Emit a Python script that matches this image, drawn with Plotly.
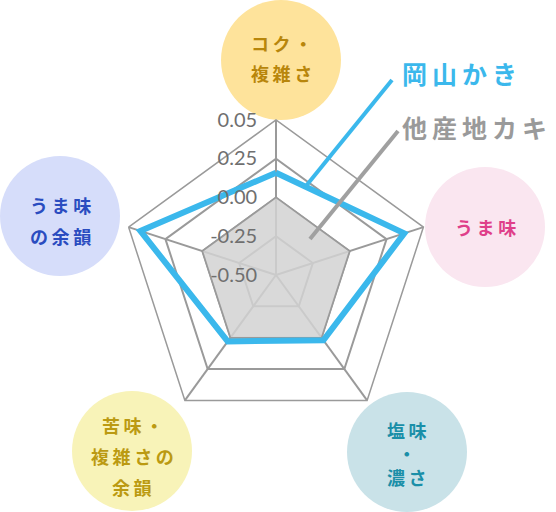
import plotly.graph_objects as go

# 評価項目 (時計回り、上から)
categories = ['コク・複雑さ', 'うま味', '塩味・濃さ', '苦味・複雑さの余韻', 'うま味の余韻']
okayama = [0.16, 0.37, 0.02, 0.03, 0.42]
other = [0.0, 0.0, 0.0, 0.0, 0.0]
tick_vals = [-0.5, -0.25, 0.0, 0.25, 0.5]
tick_text = ['-0.50', '-0.25', '0.00', '0.25', '0.05']

W, H = 556, 512
JP = 'Noto Sans CJK JP'


def px(x):
    return x / W


def py(y):
    return 1 - y / H


def spaced(s):
    return '\u2009'.join(s)


def closed(v):
    return v + v[:1]


fig = go.Figure()
fig.add_trace(go.Scatterpolar(
    r=closed(other), theta=closed(categories), mode='lines',
    fill='toself', fillcolor='rgba(210,210,210,0.85)',
    line=dict(color='#9a9a9a', width=1.5), name='他産地カキ'))
fig.add_trace(go.Scatterpolar(
    r=closed(okayama), theta=closed(categories), mode='lines',
    line=dict(color='#3bb8ec', width=6), name='岡山かき'))

# 円の中の項目名
circles = [
    (281, 60, '#fee39b', '#b8860b', [('コク・', 43), ('複雑さ', 73)]),
    (485, 227, '#fae6f0', '#df3f8a', [('うま味', 227)]),
    (407, 452, '#c9e2e8', '#1a8fa8', [('塩味<br>・<br>濃さ', 453)]),
    (132, 451, '#f8f3b8', '#bb9a12', [('苦味・', 425), ('複雑さの', 456), ('余韻', 487)]),
    (60, 216, '#d6ddfa', '#2a4cc0', [('うま味', 205), ('の余韻', 236)]),
]
shapes = []
annotations = []
for cx, cy, bg, fg, lines in circles:
    shapes.append(dict(type='circle', xref='paper', yref='paper', layer='below',
                       x0=px(cx - 60), x1=px(cx + 60), y0=py(cy + 60), y1=py(cy - 60),
                       fillcolor=bg, line=dict(width=0)))
    for txt, ty in lines:
        txt = '<br>'.join(spaced(t) for t in txt.split('<br>'))
        annotations.append(dict(text=txt, x=px(cx), y=py(ty), xref='paper', yref='paper',
                                showarrow=False, xanchor='center', yanchor='middle',
                                font=dict(family=JP, size=18, color=fg, weight='bold')))

# 凡例 (引き出し線)
shapes.append(dict(type='line', xref='paper', yref='paper', x0=px(392), y0=py(80), x1=px(306), y1=py(186),
                   line=dict(color='#3bb8ec', width=4)))
shapes.append(dict(type='line', xref='paper', yref='paper', x0=px(398), y0=py(131), x1=px(310), y1=py(239),
                   line=dict(color='#a0a0a0', width=4)))
annotations.append(dict(text=spaced('岡山かき'), x=px(400), y=py(73), xref='paper', yref='paper',
                        showarrow=False, xanchor='left', yanchor='middle',
                        font=dict(family=JP, size=25, color='#3bb8ec', weight='bold')))
annotations.append(dict(text=spaced('他産地カキ'), x=px(400), y=py(127), xref='paper', yref='paper',
                        showarrow=False, xanchor='left', yanchor='middle',
                        font=dict(family=JP, size=25, color='#9a9a9a', weight='bold')))

fig.update_layout(
    width=W, height=H,
    margin=dict(l=0, r=0, t=0, b=0),
    paper_bgcolor='white', plot_bgcolor='white',
    showlegend=False,
    shapes=shapes,
    annotations=annotations,
    polar=dict(
        domain=dict(x=[px(121), px(431)], y=[py(430), py(120)]),
        bgcolor='rgba(0,0,0,0)',
        gridshape='linear',
        radialaxis=dict(range=[-0.5, 0.5], tickvals=tick_vals,
                        ticktext=[t + '\u00a0\u00a0\u00a0' for t in tick_text],
                        angle=90, tickangle=90, side='counterclockwise', showline=False, ticks='',
                        gridcolor='#9a9a9a', gridwidth=1.5,
                        tickfont=dict(family='Lato', size=20, color='#6f6f6f')),
        angularaxis=dict(direction='clockwise', rotation=90, showticklabels=False, ticks='',
                         linecolor='#9a9a9a', linewidth=1.5,
                         gridcolor='#9a9a9a', gridwidth=1.5),
    ),
)

# ページ余白を消して図を左上に合わせる
fig.write_html('out.html', config={'displayModeBar': False},
               post_script="document.body.style.margin='0';")
